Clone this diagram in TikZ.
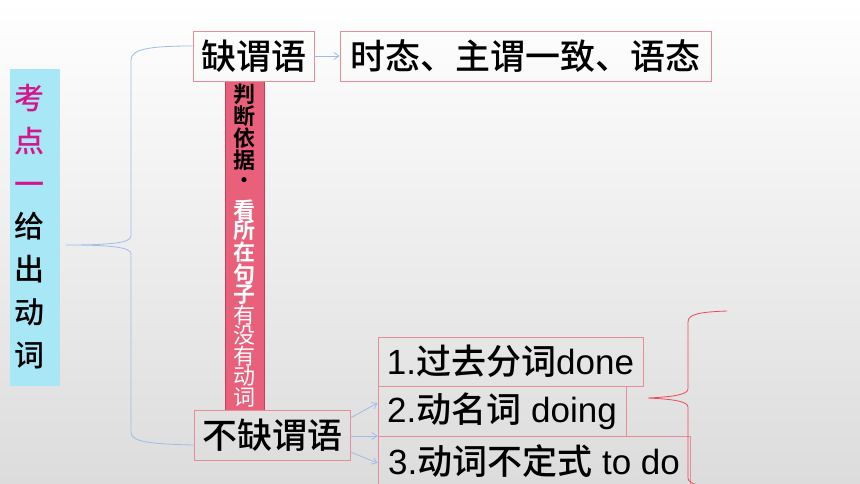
\documentclass[tikz,border=0pt]{standalone}
\usepackage{fontspec}
\setmainfont{Noto Sans CJK SC}[UprightFont=* Medium, BoldFont=* Bold]
\newfontfamily\cjkreg{Noto Sans CJK SC}
\newfontfamily\lat{Liberation Sans}
\usetikzlibrary{arrows.meta}
\definecolor{bgbot}{RGB}{220,220,220}
\definecolor{boxpink}{RGB}{232,140,156}
\definecolor{connblue}{RGB}{160,188,232}
\definecolor{barred}{RGB}{232,96,122}
\definecolor{bardark}{RGB}{196,64,88}
\definecolor{cyanbox}{RGB}{168,232,246}
\definecolor{magtext}{RGB}{214,20,140}
\definecolor{redbr}{RGB}{240,72,88}
\newcommand\rbk[1]{\textbf{#1}}
\newcommand\rwb[1]{\textcolor{white}{\textbf{#1}}}
\newcommand\rwn[1]{\textcolor{white}{\cjkreg #1}}
\newcommand\rmg[1]{\textcolor{magtext}{#1}}
\tikzset{
  box/.style={draw=boxpink, line width=0.8pt, minimum height=50pt, inner sep=0pt,
    font=\fontsize{35}{40}\selectfont},
  conn/.style={draw=connblue, line width=0.8pt},
  arr/.style={conn, -{Straight Barb[length=5pt,width=7pt]}},
  redbrace/.style={draw=redbr, line width=0.8pt}
}
\begin{document}
\begin{tikzpicture}[x=1pt,y=-1pt]
\useasboundingbox (0,0) rectangle (860,484);
\shade[top color=white, bottom color=bgbot] (0,0) rectangle (860,484);

% left column
\node[fill=cyanbox, minimum width=50pt, minimum height=317pt, inner sep=0pt] (kd) at (35,227.5) {};
\node[align=center, inner sep=0pt, font=\fontsize{30}{42.8}\selectfont] (kdt) at (30,226.5)
  {\rmg{考}\\\rmg{点}\\\rmg{一}\\给\\出\\动\\词};

% red vertical bar
\node[fill=barred, draw=bardark, line width=0.8pt, minimum width=39pt, minimum height=329pt,
  inner sep=0pt, align=center, font=\fontsize{22}{20.5}\selectfont] (bar) at (244.5,245.5)
  {\rbk{判}\\\rbk{断}\\\rbk{依}\\\rbk{据}\\·\\[9pt]\rwb{看}\\\rwb{所}\\\rwb{在}\\\rwb{句}\\\rwb{子}\\\rwn{有}\\\rwn{没}\\\rwn{有}\\\rwn{动}\\\rwn{词}};

% boxes
\node[box, minimum width=121pt] (qw) at (253.5,56) {缺谓语};
\node[box, minimum width=371pt] (sh) at (525.5,56) {时态、主谓一致、语态};
\node[box, minimum width=156pt] (bq) at (272,435) {不缺谓语};
\node[box, minimum width=265pt, minimum height=49pt] (b1) at (510.5,361.5) {{\lat 1.}过去分词{\lat done}};
\node[box, minimum width=248pt] (b2) at (502,411) {{\lat 2.}动名词{\lat\ doing}};
\node[box, minimum width=312pt] (b3) at (534,461) {{\lat 3.}动词不定式{\lat\ to do}};

% left brace
\coordinate (lb) at (66,245);
\draw[conn] ([yshift=10pt]qw.west) .. controls (150,46) and (131,49) .. (131,60)
  -- (131,236) .. controls (131,243) and (110,245) .. (lb)
  .. controls (110,245) and (131,247) .. (131,254)
  -- (131,432) .. controls (131,442) and (150,444) .. ([yshift=-10pt]bq.west);

% arrows
\draw[arr] (qw.east) -- (sh.west);
\draw[arr] ([yshift=17pt]bq.east) -- ([yshift=8pt]b2.west);
\draw[arr] ([yshift=-1pt]bq.east) -- ([yshift=-25pt]b2.west);
\draw[arr] ([yshift=-17pt]bq.east) -- ([yshift=-2pt]b3.west);

% right red brace
\coordinate (rb) at (648,398);
\coordinate (rbt) at (727,311);
\coordinate (rbb) at (727,488);
\draw[redbrace] (rbt) .. controls (700,312) and (688,314) .. (688,322)
  -- (688,389) .. controls (688,395) and (670,397) .. (rb)
  .. controls (670,399) and (688,401) .. (688,407)
  -- (688,478) .. controls (688,484) and (700,487) .. (rbb);
\end{tikzpicture}
\end{document}
